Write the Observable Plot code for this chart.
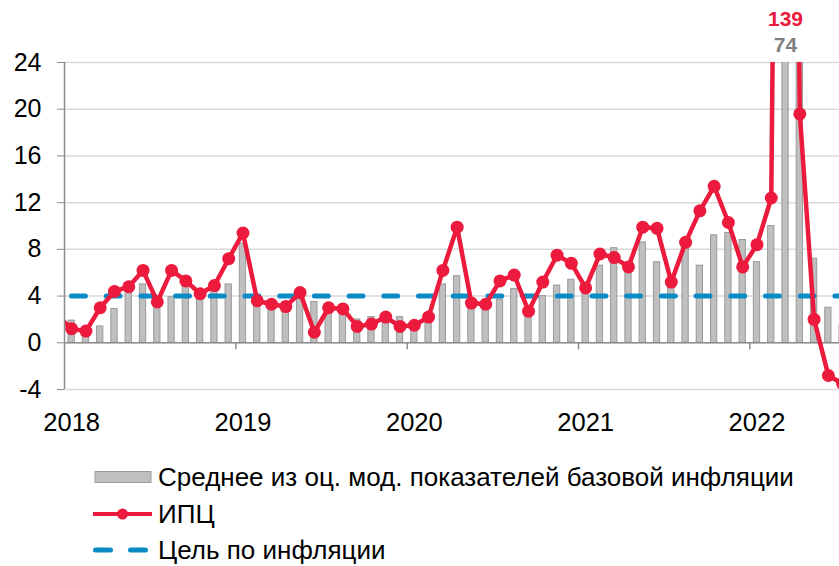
<!DOCTYPE html>
<html><head><meta charset="utf-8">
<script src="https://cdn.jsdelivr.net/npm/d3@7"></script>
<script src="https://cdn.jsdelivr.net/npm/@observablehq/plot@0.6"></script>
<style>
body{margin:0;background:#fff;font-family:"Liberation Sans",Arial,sans-serif;}
#chart{width:839px;height:566px;overflow:hidden;position:relative;background:#fff}
.legend{position:relative;height:121px}
.row{position:absolute;left:93px;display:flex;align-items:center;font-size:26px;color:#000;height:30px;white-space:nowrap}
.row svg{margin-right:5px;flex:none}
</style></head><body><div id="chart"></div>
<script>
// Categories: months (Dec 2017 point is partly hidden behind the axis; Jul 2022 is cut at the right edge)
const months = [
  "2017-12",
  "2018-01","2018-02","2018-03","2018-04","2018-05","2018-06","2018-07","2018-08","2018-09","2018-10","2018-11","2018-12",
  "2019-01","2019-02","2019-03","2019-04","2019-05","2019-06","2019-07","2019-08","2019-09","2019-10","2019-11","2019-12",
  "2020-01","2020-02","2020-03","2020-04","2020-05","2020-06","2020-07","2020-08","2020-09","2020-10","2020-11","2020-12",
  "2021-01","2021-02","2021-03","2021-04","2021-05","2021-06","2021-07","2021-08","2021-09","2021-10","2021-11","2021-12",
  "2022-01","2022-02","2022-03","2022-04","2022-05","2022-06","2022-07"
];
// ИПЦ
const cpi = [
  2.3,
  1.2, 1.0, 3.0, 4.4, 4.8, 6.2, 3.5, 6.2, 5.3, 4.2, 4.9, 7.2,
  9.4, 3.6, 3.3, 3.1, 4.3, 0.9, 3.0, 2.9, 1.4, 1.6, 2.2, 1.4,
  1.5, 2.2, 6.2, 9.9, 3.4, 3.3, 5.3, 5.8, 2.7, 5.2, 7.5, 6.8,
  4.7, 7.6, 7.3, 6.5, 9.9, 9.8, 5.2, 8.6, 11.3, 13.4, 10.3, 6.5,
  8.4, 12.4, 139, 19.6, 2.0, -2.8, -3.5
];
// Среднее из оц. мод. показателей базовой инфляции
const core = [
  null,
  1.9, 0.8, 1.4, 2.9, 4.4, 5.0, 3.3, 3.9, 4.8, 4.0, 4.5, 5.0,
  8.5, 3.5, 3.2, 3.5, 4.3, 3.5, 2.7, 2.6, 2.0, 2.2, 1.9, 2.2,
  1.6, 2.1, 5.0, 5.7, 3.8, 3.6, 3.7, 4.6, 3.0, 4.0, 4.9, 5.4,
  4.3, 6.6, 8.1, 6.1, 8.6, 6.9, 5.0, 8.1, 6.6, 9.2, 9.4, 8.8,
  6.9, 10.0, 74, 30, 7.2, 3.0, 1.5
];
const target = 4;
const yTicks = [-4, 0, 4, 8, 12, 16, 20, 24];
const years = ["2018", "2019", "2020", "2021", "2022"];
const highlightMonth = "2022-03";
const lastVisibleMonth = 54.28; // domain end (in months from Jan 2018)

const legendLabels = ["Среднее из оц. мод. показателей базовой инфляции", "ИПЦ", "Цель по инфляции"];

const RED = "#ec1a3c", GRAY = "#bfbfbf", BLUE = "#0a8bc6", AXIS = "#8c8c8c";

const monthIndex = m => { const [y, mo] = m.split("-").map(Number); return (y - 2018) * 12 + (mo - 1); };
const data = months.map((m, k) => ({m, i: monthIndex(m), cpi: cpi[k], core: core[k]}));
const yearStart = years.map(y => monthIndex(`${y}-01`));
const hl = data.find(d => d.m === highlightMonth);

const plot = Plot.plot({
  width: 839, height: 445,
  marginLeft: 64, marginRight: 0, marginTop: 62, marginBottom: 56,
  style: {fontFamily: "Liberation Sans, Arial, sans-serif", background: "white"},
  x: {type: "linear", domain: [0, lastVisibleMonth]},
  y: {domain: [-4, 24]},
  marks: [
    Plot.gridY(yTicks, {stroke: "#d9d9d9", strokeOpacity: 1, strokeWidth: 1.5}),
    Plot.rectY(data.filter(d => d.core != null), {x1: d => d.i, x2: d => d.i + 1, y: "core", insetLeft: 4, insetRight: 4, fill: GRAY, stroke: "#9a9a9a", strokeWidth: 1, clip: true}),
    Plot.ruleY([0], {stroke: AXIS, strokeWidth: 1.5}),
    Plot.ruleX(yearStart.slice(1), {y1: 0, y2: 0, insetBottom: -7, stroke: AXIS, strokeWidth: 1.5}),
    Plot.ruleY([target], {stroke: BLUE, strokeWidth: 5, strokeDasharray: "13.9,20.8", strokeDashoffset: -7.5, strokeLinecap: "round"}),
    Plot.line(data, {x: d => d.i + 0.5, y: "cpi", stroke: RED, strokeWidth: 4.5, clip: true}),
    Plot.dot(data, {x: d => d.i + 0.5, y: "cpi", r: 6.5, fill: RED, clip: true}),
    Plot.ruleX([0], {stroke: AXIS, strokeWidth: 1.5}),
    Plot.axisY(yTicks, {tickSize: 7, tickPadding: 16, fontSize: 25, stroke: AXIS, fill: "black", tickFormat: d => String(d)}),
    Plot.axisX(yearStart.map(i => i + 0.5), {tickSize: 0, tickPadding: 23, fontSize: 25.5, fill: "black", tickFormat: d => years[Math.floor(d / 12)]}),
    Plot.text([hl], {x: d => d.i + 0.5, text: d => String(d.cpi), frameAnchor: "top", dy: -51, fill: RED, fontWeight: "bold", fontSize: 21}),
    Plot.text([hl], {x: d => d.i + 0.5, text: d => String(d.core), frameAnchor: "top", dy: -25, fill: "#7f7f7f", fontWeight: "bold", fontSize: 21})
  ]
});

const chart = document.getElementById("chart");
chart.appendChild(plot);

const legend = document.createElement("div");
legend.className = "legend";
const tops = [17, 54, 90];
const swatches = [
  `<svg width="60" height="20"><rect x="2" y="4.5" width="56" height="11" fill="${GRAY}" stroke="#9a9a9a" stroke-width="1"/></svg>`,
  `<svg width="60" height="20"><line x1="0" y1="10" x2="59" y2="10" stroke="${RED}" stroke-width="4"/><circle cx="29.5" cy="10" r="5.5" fill="${RED}"/></svg>`,
  `<svg width="60" height="20"><line x1="2.5" y1="10" x2="17.5" y2="10" stroke="${BLUE}" stroke-width="5" stroke-linecap="round"/><line x1="37.5" y1="10" x2="52.5" y2="10" stroke="${BLUE}" stroke-width="5" stroke-linecap="round"/></svg>`
];
legendLabels.forEach((t, k) => {
  const r = document.createElement("div");
  r.className = "row";
  r.style.top = tops[k] + "px";
  r.innerHTML = swatches[k] + `<span>${t}</span>`;
  legend.appendChild(r);
});
chart.appendChild(legend);
</script></body></html>
